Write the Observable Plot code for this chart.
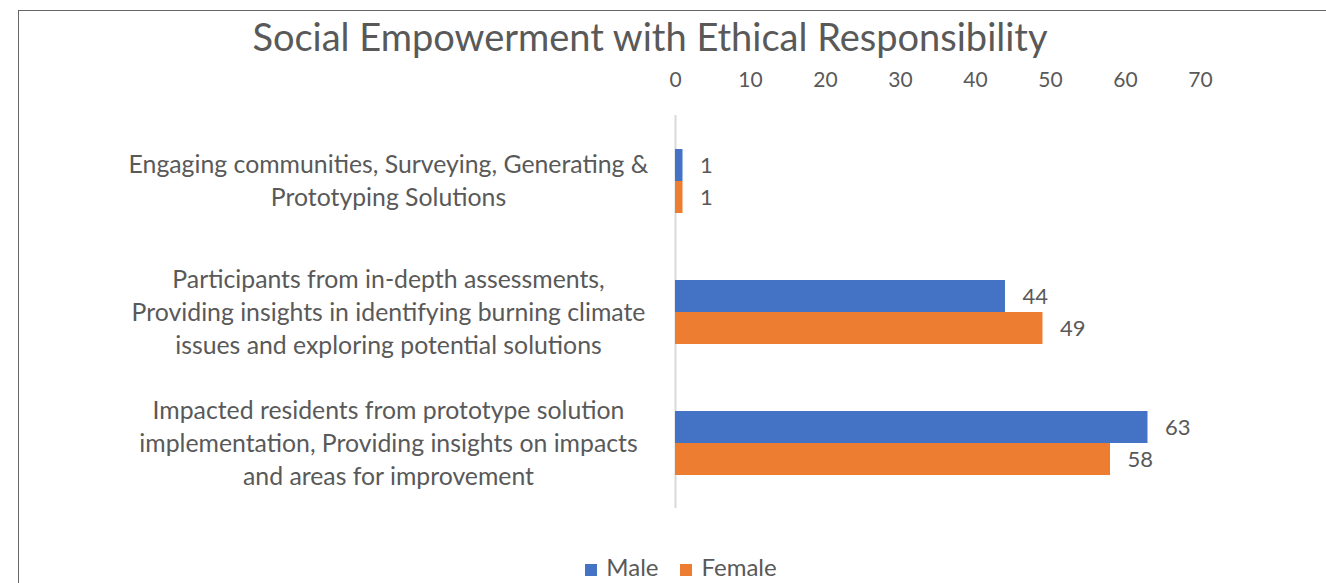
<!DOCTYPE html>
<html>
<head>
<meta charset="utf-8">
<script src="https://cdn.jsdelivr.net/npm/d3@7"></script>
<script src="https://cdn.jsdelivr.net/npm/@observablehq/plot@0.6"></script>
<style>
  html, body { margin: 0; padding: 0; background: #fff; }
  #wrap { position: relative; width: 1326px; height: 583px; overflow: hidden; font-family: Lato, "Open Sans", sans-serif; }
  #border { position: absolute; left: 18px; top: 10px; width: 1400px; height: 700px; border-left: 1.5px solid #666; border-top: 1.5px solid #666; }
  #title { position: absolute; left: 0; width: 1300px; top: 13px; text-align: center; font-size: 38px; color: #595959; }
  #chart { position: absolute; left: 0; top: 50px; }
  #legend { position: absolute; left: 0; width: 1362px; top: 552px; text-align: center; font-size: 24px; color: #595959; }
  .sw { display: inline-block; width: 12px; height: 12px; margin-right: 9px; vertical-align: 0px; }
  .item { margin: 0 11px; }
</style>
</head>
<body>
<div id="wrap">
  <div id="border"></div>
  <div id="title">Social Empowerment with Ethical Responsibility</div>
  <div id="chart"></div>
  <div id="legend"></div>
</div>
<script>
const categories = [
  "Engaging communities, Surveying, Generating &\nPrototyping Solutions",
  "Participants from in-depth assessments,\nProviding insights in identifying burning climate\nissues and exploring potential solutions",
  "Impacted residents from prototype solution\nimplementation, Providing insights on impacts\nand areas for improvement"
];
const series = ["Male", "Female"];
const maleValues = [1, 44, 63];
const femaleValues = [1, 49, 58];
const colors = ["#4472C4", "#ED7D31"];
const xTicks = [0, 10, 20, 30, 40, 50, 60, 70];

const data = [];
categories.forEach((c, i) => {
  data.push({category: c, gender: "Male", value: maleValues[i]});
  data.push({category: c, gender: "Female", value: femaleValues[i]});
});

const chart = Plot.plot({
  width: 1326,
  height: 470,
  marginLeft: 675,
  marginRight: 126,
  marginTop: 64,
  marginBottom: 12,
  style: {fontFamily: "Lato, 'Open Sans', sans-serif", fontSize: "21px", color: "#595959"},
  x: {domain: [0, 70], axis: "top", ticks: xTicks, tickSize: 0, tickPadding: 29, label: null},
  fy: {domain: categories, padding: 0, axis: null, label: null},
  y: {domain: series, paddingInner: 0, paddingOuter: 0.985, axis: null, label: null},
  color: {domain: series, range: colors},
  marks: [
    Plot.ruleX([0], {stroke: "#d9d9d9", strokeWidth: 2}),
    Plot.barX(data, {x: "value", y: "gender", fy: "category", fill: "gender"}),
    Plot.text(data, {x: "value", y: "gender", fy: "category", text: d => String(d.value), dx: 17, textAnchor: "start", fontSize: 22, fill: "#595959"}),
    Plot.text(categories, {fy: d => d, text: d => d, frameAnchor: "left", dx: -287, dy: -2, textAnchor: "middle", lineHeight: 1.33, fontSize: 24.8, fill: "#595959"})
  ]
});
document.getElementById("chart").appendChild(chart);

const legend = document.getElementById("legend");
series.forEach((s, i) => {
  const span = document.createElement("span");
  span.className = "item";
  const sw = document.createElement("span");
  sw.className = "sw";
  sw.style.background = colors[i];
  span.appendChild(sw);
  span.appendChild(document.createTextNode(s));
  legend.appendChild(span);
});
</script>
</body>
</html>
